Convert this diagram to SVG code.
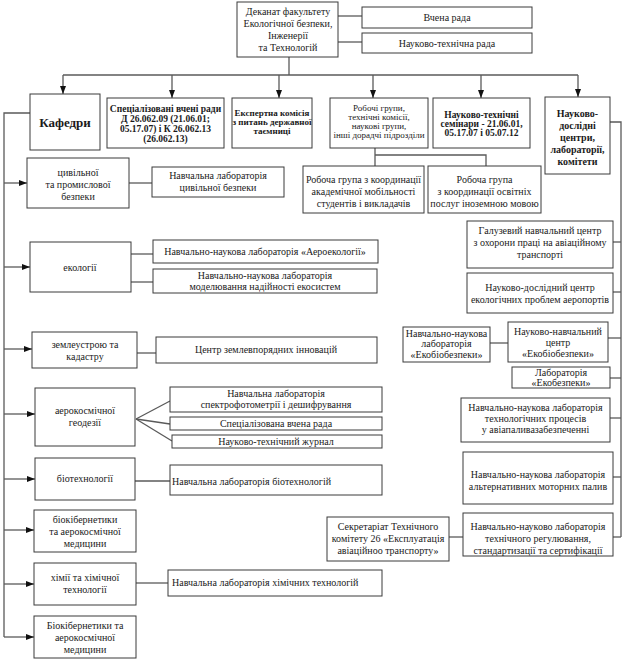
<svg xmlns="http://www.w3.org/2000/svg" width="624" height="659" viewBox="0 0 624 659">
<defs>
<marker id="ar" markerUnits="userSpaceOnUse" markerWidth="8" markerHeight="6" refX="8" refY="3" orient="auto"><path d="M0,0 L8,3 L0,6 z" fill="#111"/></marker>
</defs>
<style>
rect{fill:#fff;stroke:#3a3a3a;stroke-width:1}
text{font-family:"Liberation Serif","Times New Roman",serif;font-size:10px;fill:#1a1a1a;text-anchor:middle}
.b{font-weight:bold}
.l{text-anchor:start}
.c line,.c polyline{stroke:#5a5a5a;stroke-width:1.3;fill:none}
.a{marker-end:url(#ar)}
</style>
<rect x="0" y="0" width="624" height="659" style="stroke:none"/>
<g class="c" id="connectors">
<line x1="338" y1="16" x2="362" y2="16"/>
<line x1="338" y1="42" x2="362" y2="42"/>
<line x1="289" y1="57" x2="289" y2="75"/>
<line x1="63" y1="75" x2="578" y2="75"/>
<line class="a" x1="63" y1="75" x2="63" y2="94"/>
<line class="a" x1="172" y1="75" x2="172" y2="98"/>
<line class="a" x1="279" y1="75" x2="279" y2="98"/>
<line class="a" x1="373" y1="75" x2="373" y2="98"/>
<line class="a" x1="481" y1="75" x2="481" y2="98"/>
<line class="a" x1="578" y1="75" x2="578" y2="97"/>
<polyline points="30,113 4,113 4,637"/>
<line class="a" x1="4" y1="183" x2="27" y2="183"/>
<line class="a" x1="4" y1="267" x2="30" y2="267"/>
<line class="a" x1="4" y1="349" x2="32" y2="349"/>
<line class="a" x1="4" y1="414" x2="35" y2="414"/>
<line class="a" x1="4" y1="479" x2="35" y2="479"/>
<line class="a" x1="4" y1="530" x2="34" y2="530"/>
<line class="a" x1="4" y1="584" x2="34" y2="584"/>
<line class="a" x1="4" y1="637" x2="34" y2="637"/>
<line x1="129" y1="183" x2="152" y2="183"/>
<line x1="131" y1="254" x2="153" y2="254"/>
<line x1="131" y1="282" x2="153" y2="282"/>
<line x1="137" y1="353" x2="156" y2="353"/>
<line x1="136" y1="419" x2="170" y2="401"/>
<line x1="136" y1="419" x2="170" y2="424"/>
<line x1="136" y1="419" x2="172" y2="441"/>
<line x1="135" y1="481" x2="170" y2="481"/>
<line x1="136" y1="583" x2="168" y2="583"/>
<line x1="375" y1="148" x2="375" y2="166"/>
<polyline points="375,155 486,155 486,166"/>
<polyline points="610,122 621,122 621,537"/>
<line x1="613" y1="242" x2="621" y2="242"/>
<line x1="613" y1="292" x2="621" y2="292"/>
<line x1="608" y1="338" x2="621" y2="338"/>
<line x1="490" y1="343" x2="508" y2="343"/>
<line x1="610" y1="378" x2="621" y2="378"/>
<line x1="610" y1="418" x2="621" y2="418"/>
<line x1="613" y1="477" x2="621" y2="477"/>
<line x1="613" y1="537" x2="621" y2="537"/>
<line x1="449" y1="537" x2="463" y2="537"/>
</g>
<g id="dekanat"><rect x="237" y="2" width="101" height="55"/><text x="288" y="15">Деканат факультету</text><text x="288" y="27">Екологічної безпеки,</text><text x="288" y="39">Інженерії</text><text x="288" y="51">та Технологій</text></g>
<g id="vchena"><rect x="362" y="7" width="170" height="21"/><text x="447" y="21">Вчена рада</text></g>
<g id="ntr"><rect x="362" y="33" width="170" height="20"/><text x="447" y="47">Науково-технічна рада</text></g>
<g id="kafedry"><rect x="30" y="94" width="70" height="56"/><text class="b" x="65" y="127" style="font-size:13px">Кафедри</text></g>
<g id="spec"><rect x="107" y="98" width="117" height="50"/><text class="b" x="165.5" y="112" style="font-size:9.5px">Спеціалізовані вчені ради</text><text class="b" x="165.5" y="122" style="font-size:9.5px">Д 26.062.09 (21.06.01;</text><text class="b" x="165.5" y="132" style="font-size:9.5px">05.17.07) і К 26.062.13</text><text class="b" x="165.5" y="142" style="font-size:9.5px">(26.062.13)</text></g>
<g id="ekspert"><rect x="232" y="98" width="80" height="50"/><text class="b" x="272" y="116" style="font-size:9px">Експертна комісія</text><text class="b" x="272" y="125" style="font-size:9px">з питань державної</text><text class="b" x="272" y="134" style="font-size:9px">таємниці</text></g>
<g id="robochi"><rect x="330" y="98" width="98" height="50"/><text x="379" y="111" style="font-size:9px">Робочі групи,</text><text x="379" y="120" style="font-size:9px">технічні комісії,</text><text x="379" y="129" style="font-size:9px">наукові групи,</text><text x="379" y="138" style="font-size:9px">інші дорадчі підрозділи</text></g>
<g id="seminary"><rect x="433" y="98" width="97" height="50"/><text class="b" x="481.5" y="118" style="font-size:9.5px">Науково-технічні</text><text class="b" x="481.5" y="127" style="font-size:9.5px">семінари - 21.06.01,</text><text class="b" x="481.5" y="136" style="font-size:9.5px">05.17.07 і 05.07.12</text></g>
<g id="ndc"><rect x="545" y="97" width="65" height="77"/><text class="b" x="577.5" y="117">Науково-</text><text class="b" x="577.5" y="129">дослідні</text><text class="b" x="577.5" y="141">центри,</text><text class="b" x="577.5" y="153">лабораторії,</text><text class="b" x="577.5" y="165">комітети</text></g>
<g id="civ"><rect x="27" y="158" width="102" height="50"/><text x="78" y="176">цивільної</text><text x="78" y="188">та промислової</text><text x="78" y="200">безпеки</text></g>
<g id="civ-lab"><rect x="152" y="167" width="132" height="30"/><text x="218" y="179">Навчальна лабораторія</text><text x="218" y="191">цивільної безпеки</text></g>
<g id="ekol"><rect x="30" y="242" width="101" height="50"/><text x="80" y="271">екології</text></g>
<g id="aeroekol"><rect x="153" y="240" width="225" height="23"/><text x="265" y="255">Навчально-наукова лабораторія «Аероекології»</text></g>
<g id="model"><rect x="153" y="269" width="224" height="24"/><text x="265" y="279">Навчально-наукова лабораторія</text><text x="265" y="290">моделювання надійності екосистем</text></g>
<g id="zemle"><rect x="32" y="332" width="105" height="36"/><text x="85" y="348">землеустрою та</text><text x="85" y="360">кадастру</text></g>
<g id="zemle-c"><rect x="156" y="337" width="221" height="26"/><text x="266" y="353">Центр землевпорядних інновацій</text></g>
<g id="geod"><rect x="35" y="388" width="100" height="58"/><text x="85" y="414">аерокосмічної</text><text x="85" y="426">геодезії</text></g>
<g id="spektr"><rect x="170" y="387" width="212" height="25"/><text x="276" y="397">Навчальна лабораторія</text><text x="276" y="408">спектрофотометрії і дешифрування</text></g>
<g id="specvr"><rect x="170" y="417" width="212" height="13"/><text x="276" y="427">Спеціалізована вчена рада</text></g>
<g id="zhurnal"><rect x="172" y="435" width="210" height="13"/><text x="276" y="445">Науково-технічний журнал</text></g>
<g id="biotech"><rect x="35" y="458" width="100" height="42"/><text x="85" y="482">біотехнології</text></g>
<g id="biotech-lab"><rect x="170" y="465" width="212" height="30"/><text class="l" x="172" y="485">Навчальна лабораторія біотехнологій</text></g>
<g id="biokib"><rect x="34" y="510" width="102" height="42"/><text x="85" y="523">біокібернетики</text><text x="85" y="535">та аерокосмічної</text><text x="85" y="547">медицини</text></g>
<g id="khim"><rect x="34" y="563" width="102" height="42"/><text x="85" y="581">хімії та хімічної</text><text x="85" y="593">технології</text></g>
<g id="khim-lab"><rect x="168" y="570" width="214" height="26"/><text class="l" x="172" y="586">Навчальна лабораторія хімічних технологій</text></g>
<g id="biokib2"><rect x="34" y="616" width="102" height="42"/><text x="85" y="629">Біокібернетики та</text><text x="85" y="641">аерокосмічної</text><text x="85" y="653">медицини</text></g>
<g id="rg1"><rect x="303" y="166" width="121" height="47"/><text x="363.5" y="183">Робоча група з координації</text><text x="363.5" y="195">академічної мобільності</text><text x="363.5" y="207">студентів і викладачів</text></g>
<g id="rg2"><rect x="428" y="166" width="113" height="47"/><text x="484.5" y="183">Робоча група</text><text x="484.5" y="195">з координації освітніх</text><text x="484.5" y="207">послуг іноземною мовою</text></g>
<g id="galuz"><rect x="467" y="221" width="146" height="47"/><text x="540" y="234">Галузевий навчальний центр</text><text x="540" y="246">з охорони праці на авіаційному</text><text x="540" y="258">транспорті</text></g>
<g id="ndcep"><rect x="467" y="273" width="146" height="40"/><text x="540" y="291">Науково-дослідний центр</text><text x="540" y="303">екологічних проблем аеропортів</text></g>
<g id="nnle"><rect x="403" y="327" width="87" height="35"/><text x="446.5" y="337">Навчально-наукова</text><text x="446.5" y="347">лабораторія</text><text x="446.5" y="358">«Екобіобезпеки»</text></g>
<g id="nnce"><rect x="508" y="322" width="100" height="40"/><text x="558" y="335">Науково-навчальний</text><text x="558" y="346">центр</text><text x="558" y="357">«Екобіобезпеки»</text></g>
<g id="labeko"><rect x="512" y="367" width="98" height="21"/><text x="561" y="376">Лабораторія</text><text x="561" y="386">«Екобезпеки»</text></g>
<g id="avia"><rect x="461" y="398" width="149" height="44"/><text x="535.5" y="411">Навчально-наукова лабораторія</text><text x="535.5" y="422">технологічних процесів</text><text x="535.5" y="433">у авіапаливазабезпеченні</text></g>
<g id="palyv"><rect x="463" y="452" width="150" height="52"/><text x="538" y="478">Навчально-наукова лабораторія</text><text x="538" y="490">альтернативних моторних палив</text></g>
<g id="sekr"><rect x="327" y="517" width="122" height="44"/><text x="388" y="530">Секретаріат Технічного</text><text x="388" y="542">комітету 26 «Експлуатація</text><text x="388" y="554">авіаційноо транспорту»</text></g>
<g id="reg"><rect x="463" y="513" width="150" height="43"/><text x="538" y="530">Навчально-науково лабораторія</text><text x="538" y="542">технічного регулювання,</text><text x="538" y="554">стандартизації та сертифікації</text></g>
</svg>
